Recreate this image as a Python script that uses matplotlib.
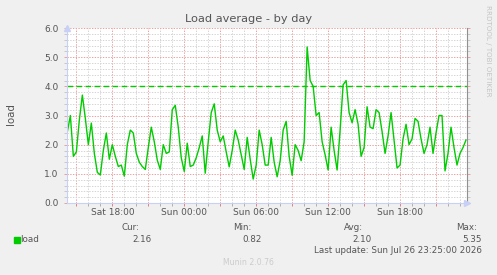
import numpy as np
import matplotlib
matplotlib.use("Agg")
import matplotlib.pyplot as plt
from matplotlib.ticker import MultipleLocator, FormatStrFormatter, NullFormatter

# load average, one sample every 15 minutes, starting Sat 14:15
start_hour = 14.25
step_hours = 0.25
load = [
    2.44, 3.0, 1.6, 1.75, 2.85, 3.7, 2.9, 2.0, 2.74, 1.7, 1.05, 0.96, 1.8, 2.4,
    1.5, 2.0, 1.6, 1.25, 1.3, 0.92, 2.0, 2.5, 2.4, 1.7, 1.4, 1.25, 1.15,
    1.9, 2.6, 2.1, 1.47, 1.15, 2.0, 1.7, 1.75, 3.2, 3.35, 2.6, 1.55, 1.08, 2.05,
    1.25, 1.3, 1.55, 1.9, 2.3, 1.02, 2.1, 3.1, 3.4, 2.5, 2.1, 2.3,
    1.75, 1.24, 1.8, 2.5, 2.16, 1.65, 1.15, 2.25, 1.5, 0.82, 1.3, 2.5, 2.0,
    1.3, 1.3, 2.25, 1.4, 0.9, 1.45, 2.5, 2.8, 1.6, 0.95, 2.0, 1.8, 1.45,
    2.1, 5.35, 4.2, 4.0, 3.0, 3.1, 2.1, 1.65, 1.13, 2.6, 1.8, 1.13, 2.5, 4.05,
    4.2, 3.1, 2.75, 3.2, 2.7, 1.6, 1.9, 3.3, 2.6, 2.55, 3.2, 3.1, 2.45,
    1.7, 2.3, 3.1, 2.16, 1.2, 1.3, 2.2, 2.7, 2.0, 2.2, 2.9, 2.8, 2.2, 1.7,
    2.0, 2.6, 1.7, 2.4, 3.0, 3.0, 1.1, 1.7, 2.6, 1.9, 1.3, 1.7, 1.9, 2.16,
]
warning = 4.0
tick_hours = [18, 24, 30, 36, 42]
tick_labels = ["Sat 18:00", "Sun 00:00", "Sun 06:00", "Sun 12:00", "Sun 18:00"]
stats_names = ["Cur:", "Min:", "Avg:", "Max:"]
stats_values = ["2.16", "0.82", "2.10", "5.35"]

hours = start_hour + step_hours * np.arange(len(load))

W, H = 497, 275
fig = plt.figure(figsize=(W / 100, H / 100), dpi=100, facecolor="#F0F0F0")
ax = fig.add_axes([67 / W, 72 / H, 400 / W, 175 / H])
ax.set_facecolor("white")

txt = "#555555"
ax.set_xlim(start_hour - 0.03, start_hour + 400 * 5 / 60)
ax.set_ylim(0, 6.0)

ax.xaxis.set_major_locator(MultipleLocator(3))
ax.xaxis.set_minor_locator(MultipleLocator(1))
ax.xaxis.set_major_formatter(NullFormatter())
ax.yaxis.set_major_locator(MultipleLocator(1))
ax.yaxis.set_minor_locator(MultipleLocator(0.2))
ax.yaxis.set_major_formatter(FormatStrFormatter("%.1f"))

ax.grid(which="minor", color="#d4d4d4", lw=0.7, ls=(0, (1.4, 1.4)))
ax.grid(which="major", color="#eba0a0", lw=0.7, ls=(0, (1.4, 1.4)))
ax.set_axisbelow(True)

ax.tick_params(which="both", direction="out", length=2.5, width=0.7, right=True)
ax.tick_params(axis="x", which="major", colors="#e08080")
ax.tick_params(axis="x", which="minor", colors="#b0b0b0")
ax.tick_params(axis="y", which="major", colors="#e8a0a0", labelcolor=txt,
               labelsize=6.5, pad=3.5)
ax.tick_params(axis="y", which="minor", colors="#c8c8c8")

for h, lab in zip(tick_hours, tick_labels):
    ax.text(h, -0.33, lab, ha="center", va="center", fontsize=6.5, color=txt)

ax.spines["top"].set_visible(False)
ax.spines["left"].set_color("#c8d0f5")
ax.spines["bottom"].set_color("#c8d0f5")
ax.spines["right"].set_color("#909090")
for s in ax.spines.values():
    s.set_linewidth(0.8)
ax.plot([0], [1.0], marker="^", ms=4, color="#c8d0f5", transform=ax.transAxes,
        clip_on=False, zorder=5)
ax.plot([1.0], [0], marker=">", ms=4, color="#c8d0f5", transform=ax.transAxes,
        clip_on=False, zorder=5)

ax.axhline(warning, color="#00CC00", lw=1.0, ls=(0, (4, 2.5)))
ax.plot(hours, load, color="#00CC00", lw=1.0)

fig.text(248.5 / W, 1 - 19 / H, "Load average - by day", ha="center",
         va="center", fontsize=8.2, color=txt)
fig.text(11 / W, 1 - 114 / H, "load", rotation=90, ha="center", va="center",
         fontsize=7.4, color=txt)
fig.text(488 / W, 1 - 51 / H, "RRDTOOL / TOBI OETIKER", rotation=270,
         ha="center", va="center", fontsize=5.1, color="#c4c4c4")

# legend block
fig.patches.append(plt.Rectangle((14 / W, 1 - 242.5 / H), 5.5 / W, 6 / H,
                                 transform=fig.transFigure, color="#00CC00"))
fig.text(20 / W, 1 - 239 / H, "load", ha="left", va="center", fontsize=6.3, color=txt)
name_right = [139, 252, 363, 477]
val_right = [152, 262, 372, 482]
for n, v, xn, xv in zip(stats_names, stats_values, name_right, val_right):
    fig.text(xn / W, 1 - 227.5 / H, n, ha="right", va="center", fontsize=6.3, color=txt)
    fig.text(xv / W, 1 - 239 / H, v, ha="right", va="center", fontsize=6.3, color=txt)
fig.text(482 / W, 1 - 250.5 / H, "Last update: Sun Jul 26 23:25:00 2026",
         ha="right", va="center", fontsize=6.3, color=txt)
fig.text(248 / W, 1 - 262.5 / H, "Munin 2.0.76", ha="center", va="center",
         fontsize=5.6, color="#cccccc")

fig.savefig("out.png", dpi=100, facecolor=fig.get_facecolor())
